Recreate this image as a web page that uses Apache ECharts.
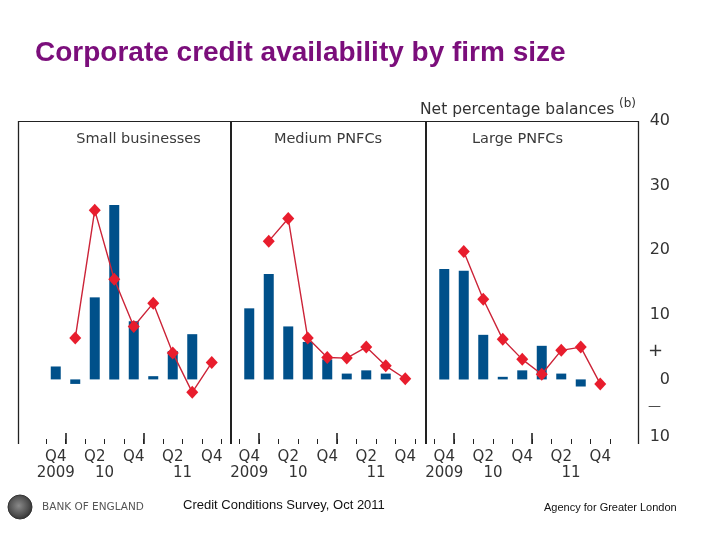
<!DOCTYPE html>
<html><head><meta charset="utf-8">
<script src="https://cdn.jsdelivr.net/npm/echarts@6/dist/echarts.min.js"></script>
<style>html,body{margin:0;padding:0;background:#fff}#c{width:720px;height:540px}</style>
</head><body><div id="c"></div>
<script>
// ---- data ----
const quarters = ['Q4','Q1','Q2','Q3','Q4','Q1','Q2','Q3','Q4'];
const quarterYears = ['2009','2010','2010','2010','2010','2011','2011','2011','2011'];
const quarterTickLabels = ['Q4','','Q2','','Q4','','Q2','','Q4'];
const yearTickLabels = {'2009':'2009','2010':'10','2011':'11'};
const panelNames = ['Small businesses','Medium PNFCs','Large PNFCs'];
const smallBars  = [2.0, -0.7, 12.7, 27.0, 9.0, 0.5, 4.4, 7.0, null];
const smallLine  = [null, 6.4, 26.2, 15.5, 8.2, 11.8, 4.1, -2.0, 2.6];
const mediumBars = [11.0, 16.3, 8.2, 5.8, 3.1, 0.9, 1.4, 0.9, null];
const mediumLine = [null, 21.4, 24.9, 6.4, 3.4, 3.3, 5.0, 2.1, 0.1];
const largeBars  = [17.1, 16.8, 6.9, 0.4, 1.4, 5.2, 0.9, -1.1, null];
const largeLine  = [null, 19.8, 12.4, 6.2, 3.1, 0.8, 4.5, 5.0, -0.7];
const yTickLabels = {'40':'40','30':'30','20':'20','10':'10','5':'+','0':'0','-5':'—','-10':'10'};

// ---- layout / style ----
const FONT = 'DejaVu Sans';
const TXT = '#333';
const barsAll = [smallBars, mediumBars, largeBars];
const linesAll = [smallLine, mediumLine, largeLine];
const gridLefts = [46, 239.5, 434.5];
const gridW = 175.5, gridTop = 121, gridH = 323;

// year centres (in category units) derived from the quarter/year arrays
const yearCentre = {};
(function(){
  const acc = {};
  quarterYears.forEach((y,i)=>{ (acc[y] = acc[y] || []).push(i); });
  Object.keys(acc).forEach(y=>{ const a = acc[y]; yearCentre[y] = (a[0] + a[a.length-1]) / 2; });
})();
// band boundaries (one more than the quarters)
const boundaries = quarters.map((q, i) => 'b' + i).concat(['b' + quarters.length]);

const grids = [], xAxes = [], yAxes = [], series = [];
for (let i = 0; i < 3; i++) {
  grids.push({left: gridLefts[i], top: gridTop, width: gridW, height: gridH});
  xAxes.push({
    gridIndex: i, type: 'category', data: quarters, boundaryGap: true, position: 'bottom',
    axisLine: {show: false, onZero: false},
    axisTick: {show: true, inside: true, length: 5, interval: 0, lineStyle: {color: '#222', width: 1}},
    axisLabel: {interval: 0, formatter: (v, idx) => quarterTickLabels[idx], fontFamily: FONT, fontSize: 15, color: TXT, margin: 6},
    splitLine: {show: false}
  });
  xAxes.push({
    gridIndex: i, type: 'category', data: boundaries, boundaryGap: false, position: 'bottom',
    axisLine: {show: false, onZero: false},
    axisTick: {show: true, inside: true, length: 11,
      interval: (idx) => idx > 0 && idx < quarterYears.length && quarterYears[idx] !== quarterYears[idx-1],
      lineStyle: {color: '#222', width: 1.6}},
    axisLabel: {show: false}, splitLine: {show: false}
  });
  xAxes.push({
    gridIndex: i, type: 'value', min: -0.5, max: quarters.length - 0.5, interval: 0.5, position: 'bottom',
    axisLine: {show: false, onZero: false}, axisTick: {show: false}, splitLine: {show: false},
    axisLabel: {
      showMinLabel: true, showMaxLabel: true,
      formatter: (v) => {
        for (const y in yearCentre) if (Math.abs(yearCentre[y] - v) < 1e-6) return yearTickLabels[y];
        return '';
      },
      fontFamily: FONT, fontSize: 15, color: TXT, margin: 22
    }
  });
  if (i < 2) {
    yAxes.push({gridIndex: i, type: 'value', min: -10, max: 40, interval: 5, show: false});
  } else {
    yAxes.push({
      gridIndex: i, type: 'value', min: -10, max: 40, interval: 5, position: 'right',
      axisLine: {show: false}, axisTick: {show: false}, splitLine: {show: false},
      axisLabel: {
        showMinLabel: true, showMaxLabel: true, align: 'right', margin: 60,
        formatter: (v) => {
          const t = yTickLabels[String(v)];
          if (t === undefined) return '';
          if (v === 5) return '{pl|' + t + '}';
          if (v === -5) return '{mn|' + t + '}';
          if (v === -10) return '{ng|' + t + '}';
          return '{n|' + t + '}';
        },
        rich: {
          n:  {fontFamily: FONT, fontSize: 16, color: TXT},
          pl: {fontFamily: FONT, fontSize: 18, color: TXT, width: 22, align: 'left', padding: [8, 0, 0, 0]},
          mn: {fontFamily: FONT, fontSize: 13, color: TXT, width: 22, align: 'left', padding: [0, 0, 10, 0]},
          ng: {fontFamily: FONT, fontSize: 16, color: TXT, padding: [0, 0, 14, 0]}
        }
      }
    });
  }
  series.push({
    type: 'bar', xAxisIndex: i * 3, yAxisIndex: i, data: barsAll[i], barWidth: 10,
    itemStyle: {color: '#00508a'}, z: 2
  });
  series.push({
    type: 'line', xAxisIndex: i * 3, yAxisIndex: i, data: linesAll[i],
    symbol: 'diamond', symbolSize: [12, 13],
    lineStyle: {color: '#cc2438', width: 1.4}, itemStyle: {color: '#e81d2d'}, z: 3
  });
}

// frame lines & texts
const frameTop = 121, frameBottom = 444;
const graphics = [];
function vline(x, w) {
  graphics.push({type: 'line', shape: {x1: x, y1: frameTop, x2: x, y2: frameBottom}, style: {stroke: '#222', lineWidth: w}, silent: true});
}
graphics.push({type: 'line', shape: {x1: 18, y1: frameTop + 0.5, x2: 638.5, y2: frameTop + 0.5}, style: {stroke: '#222', lineWidth: 1.2}, silent: true});
vline(18.5, 1.3); vline(231, 2); vline(426, 2); vline(638.5, 1.3);

const titleCentres = [138.5, 328, 517.5];
panelNames.forEach((n, i) => {
  graphics.push({type: 'text', x: titleCentres[i], y: 139,
    style: {text: n, font: '14.5px "' + FONT + '"', fill: '#3a3a3a', textAlign: 'center', textVerticalAlign: 'middle'}});
});
graphics.push({type: 'text', x: 420, y: 110,
  style: {text: 'Net percentage balances', font: '15.5px "' + FONT + '"', fill: TXT, textAlign: 'left', textVerticalAlign: 'middle'}});
graphics.push({type: 'text', x: 619, y: 104,
  style: {text: '(b)', font: '12px "' + FONT + '"', fill: TXT, textAlign: 'left', textVerticalAlign: 'middle'}});
graphics.push({type: 'text', x: 35, y: 53,
  style: {text: 'Corporate credit availability by firm size', font: 'bold 28px "Liberation Sans", Arial', fill: '#7b0e7b', textAlign: 'left', textVerticalAlign: 'middle'}});
// footer
graphics.push({type: 'circle', shape: {cx: 20, cy: 507, r: 12},
  style: {fill: new echarts.graphic.RadialGradient(0.45, 0.45, 0.6, [{offset: 0, color: '#8a8a8a'}, {offset: 0.7, color: '#4a4a4a'}, {offset: 1, color: '#2a2a2a'}]), stroke: '#333', lineWidth: 1}});
graphics.push({type: 'text', x: 42, y: 507,
  style: {text: 'BANK OF ENGLAND', font: '10.5px "' + FONT + '"', fill: '#555', textAlign: 'left', textVerticalAlign: 'middle'}});
graphics.push({type: 'text', x: 183, y: 505,
  style: {text: 'Credit Conditions Survey, Oct 2011', font: '13px "Liberation Sans", Arial', fill: '#111', textAlign: 'left', textVerticalAlign: 'middle'}});
graphics.push({type: 'text', x: 544, y: 508,
  style: {text: 'Agency for Greater London', font: '11px "Liberation Sans", Arial', fill: '#111', textAlign: 'left', textVerticalAlign: 'middle'}});

const chart = echarts.init(document.getElementById('c'), null, {renderer: 'canvas'});
chart.setOption({
  animation: false,
  backgroundColor: '#fff',
  grid: grids, xAxis: xAxes, yAxis: yAxes, series: series,
  graphic: graphics
});
</script>
</body></html>
